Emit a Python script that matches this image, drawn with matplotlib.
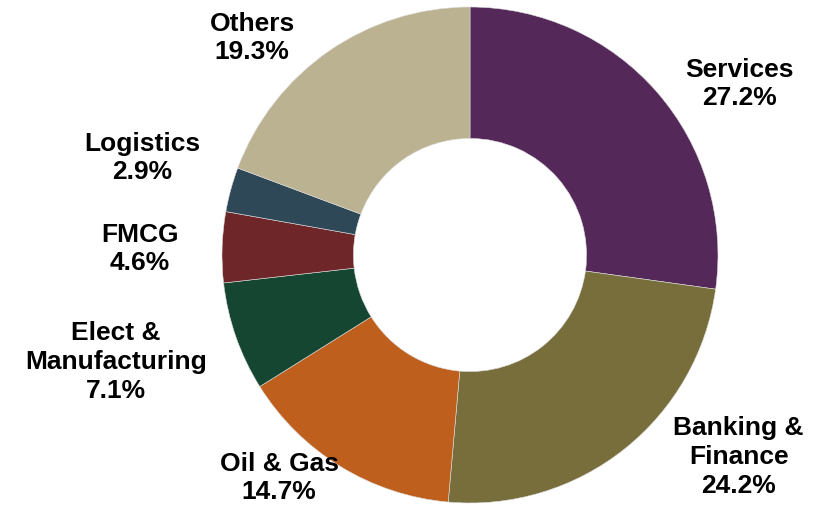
import matplotlib.pyplot as plt

sectors = ['Services', 'Banking &\nFinance', 'Oil & Gas', 'Elect &\nManufacturing',
           'FMCG', 'Logistics', 'Others']
shares = [27.2, 24.2, 14.7, 7.1, 4.6, 2.9, 19.3]
colors = ['#55285A', '#786E3C', '#BE5F1E', '#144632', '#6E2628', '#2E4858', '#BBB291']

# label centres in units of the outer radius
label_pos = [(1.087, 0.690), (1.083, -0.815), (-0.770, -0.899), (-1.427, -0.431),
             (-1.331, 0.024), (-1.323, 0.391), (-0.879, 0.875)]

plt.rcParams['font.family'] = ['Liberation Sans', 'DejaVu Sans']

fig = plt.figure(figsize=(8.14, 5.21), dpi=100)
ax = fig.add_axes([0, 0, 1, 1])
ax.pie(shares, colors=colors, startangle=90, counterclock=False, radius=1.0,
       wedgeprops=dict(width=0.53, edgecolor='#dddddd', linewidth=0.4))

for name, val, (x, y) in zip(sectors, shares, label_pos):
    ax.text(x, y, f'{name}\n{val:.1f}%', ha='center', va='center', fontsize=19,
            fontweight='bold', linespacing=1.25)

ax.set_xlim(-470 / 248, (814 - 470) / 248)
ax.set_ylim(-(521 - 255) / 248, 255 / 248)
ax.set_aspect('equal')
ax.axis('off')

fig.savefig('out.png', dpi=100)
